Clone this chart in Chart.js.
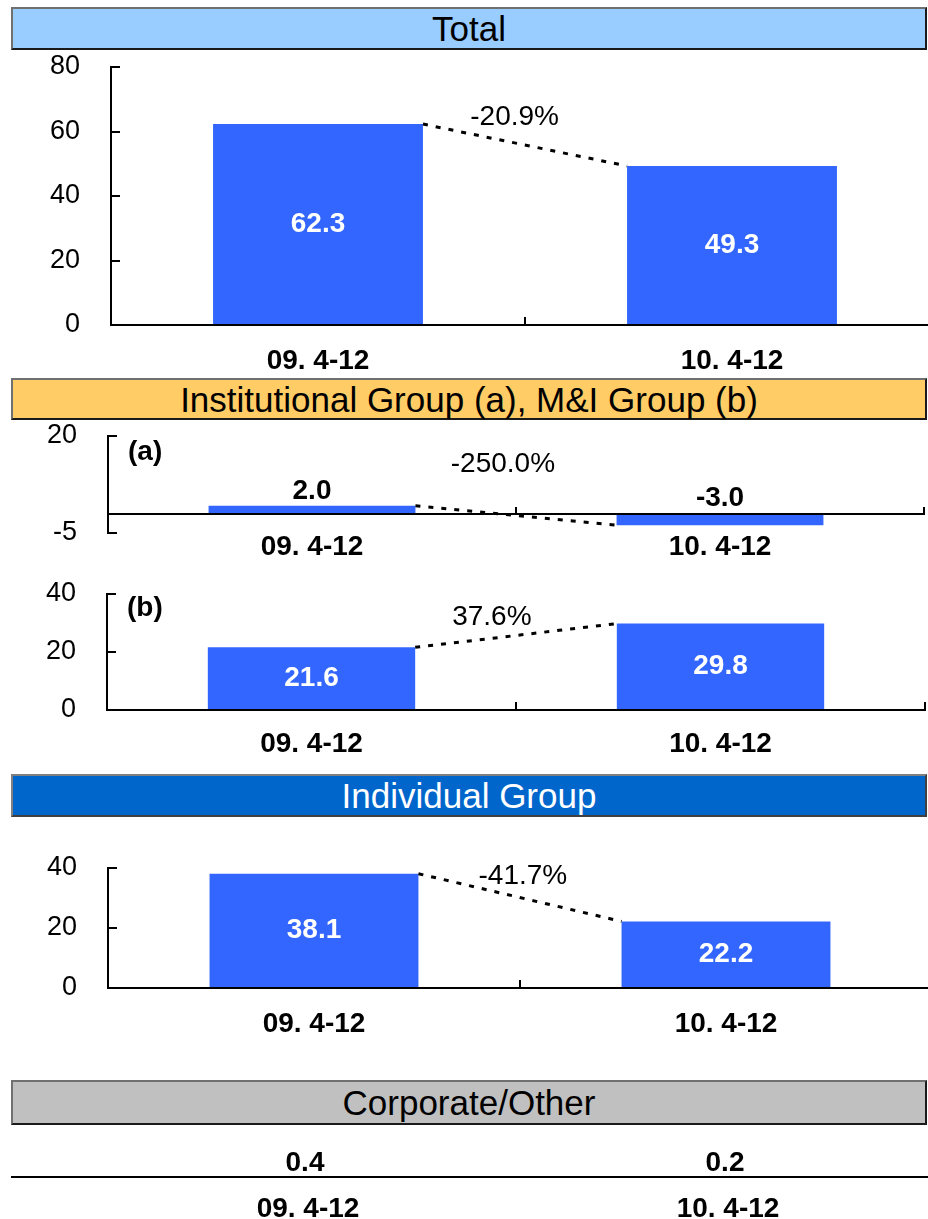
<!DOCTYPE html>
<html>
<head>
<meta charset="utf-8">
<title>Segment results 09. 4-12 vs 10. 4-12</title>
<script src="https://cdn.jsdelivr.net/npm/chart.js@4/dist/chart.umd.min.js"></script>
<style>
  html, body { margin: 0; padding: 0; background: #fff; width: 928px; height: 1219px; overflow: hidden; }
  body { position: relative; font-family: "Liberation Sans", Arial, Helvetica, sans-serif; }
  .hdr {
    position: absolute; left: 11px; width: 916px; box-sizing: border-box;
    border-style: solid; border-width: 2px;
    border-color: #707070 #1a1a1a #1a1a1a #707070;
    font-size: 35px; line-height: 1; color: #000;
    display: flex; align-items: center; justify-content: center;
  }
  canvas { position: absolute; left: 0; }
</style>
</head>
<body>
<div class="hdr" style="top:7px;height:43px;background:#99CCFF;">Total</div>
<canvas id="totalChart"></canvas>

<div class="hdr" style="top:378px;height:42px;background:#FFCC66;">Institutional Group (a), M&amp;I Group (b)</div>
<canvas id="instChart"></canvas>
<canvas id="miChart"></canvas>

<div class="hdr" style="top:774px;height:43px;background:#0066CC;color:#fff;border-color:#808080 #404040 #404040 #808080;">Individual Group</div>
<canvas id="individualChart"></canvas>

<div class="hdr" style="top:1080px;height:45px;background:#C0C0C0;">Corporate/Other</div>
<canvas id="corporateChart"></canvas>

<script>
// ---- data ----
const periods = ['09. 4-12', '10. 4-12'];

const totalValues = [62.3, 49.3];
const totalTicks = [0, 20, 40, 60, 80];
const totalChange = '-20.9%';

const institutionalValues = [2.0, -3.0];
const institutionalTicks = [-5, 20];
const institutionalChange = '-250.0%';

const miValues = [21.6, 29.8];
const miTicks = [0, 20, 40];
const miChange = '37.6%';

const individualValues = [38.1, 22.2];
const individualTicks = [0, 20, 40];
const individualChange = '-41.7%';

const corporateValues = [0.4, 0.2];

// ---- shared style ----
const FONT = '"Liberation Sans", Arial, Helvetica, sans-serif';
const BAR_BLUE = '#3366FF';
Chart.defaults.font.family = FONT;
Chart.defaults.color = '#000';
Chart.defaults.animation = false;
Chart.defaults.plugins.legend.display = false;
Chart.defaults.plugins.tooltip.enabled = false;

// Value labels, dotted connector between the two bars, change label and panel tag
const barAnnotations = {
  id: 'barAnnotations',
  afterDatasetsDraw(chart, args, opts) {
    const ctx = chart.ctx;
    const els = chart.getDatasetMeta(0).data;
    const values = chart.data.datasets[0].data;
    ctx.save();

    if (opts.connector && els.length === 2) {
      const a = els[0], b = els[1];
      ctx.beginPath();
      ctx.setLineDash([5, 8]);
      ctx.lineWidth = 3;
      ctx.strokeStyle = '#000';
      ctx.moveTo(a.x + a.width / 2, a.y);
      ctx.lineTo(b.x - b.width / 2, b.y);
      ctx.stroke();
      ctx.setLineDash([]);
    }

    ctx.textAlign = 'center';
    ctx.textBaseline = 'middle';
    ctx.font = 'bold 28px ' + FONT;
    els.forEach((el, i) => {
      const txt = values[i].toFixed(1);
      if (opts.valueMode === 'inside') {
        ctx.fillStyle = '#fff';
        ctx.fillText(txt, el.x, (el.y + el.base) / 2);
      } else {
        ctx.fillStyle = '#000';
        ctx.fillText(txt, el.x, Math.min(el.y, el.base) - opts.valueGap);
      }
    });

    if (opts.change) {
      const x = chart.scales.x.getPixelForValue(opts.changeAt[0]);
      const y = chart.scales.y.getPixelForValue(opts.changeAt[1]);
      ctx.font = '28px ' + FONT;
      ctx.fillStyle = '#000';
      ctx.fillText(opts.change, x, y);
    }

    if (opts.tag) {
      ctx.font = 'bold 28px ' + FONT;
      ctx.textAlign = 'left';
      ctx.fillStyle = '#000';
      ctx.fillText(opts.tag, chart.chartArea.left + opts.tagOffset[0], chart.chartArea.top + opts.tagOffset[1]);
    }
    ctx.restore();
  }
};

function makeBarChart(id, spec) {
  const canvas = document.getElementById(id);
  const xAxisHeight = 50;
  const width = spec.axisLeft + 2 * spec.catWidth + spec.padRight;
  const height = spec.padTop + spec.areaHeight + (spec.xAtZero ? spec.padBottom : xAxisHeight);
  canvas.width = width;
  canvas.height = height;
  canvas.style.width = width + 'px';
  canvas.style.height = height + 'px';
  canvas.style.top = spec.top + 'px';

  return new Chart(canvas, {
    type: 'bar',
    data: {
      labels: periods,
      datasets: [{
        data: spec.values,
        backgroundColor: BAR_BLUE,
        borderWidth: 0,
        barPercentage: 1,
        categoryPercentage: 0.507
      }]
    },
    options: {
      responsive: false,
      devicePixelRatio: 1,
      layout: { padding: { top: spec.padTop, right: spec.padRight, left: 0, bottom: spec.xAtZero ? spec.padBottom : 0 } },
      scales: {
        x: {
          position: spec.xAtZero ? { y: 0 } : 'bottom',
          offset: true,
          grid: { display: true, offset: true, drawOnChartArea: false, drawTicks: true, tickLength: -8, color: '#000', lineWidth: 2 },
          border: { display: true, color: '#000', width: 2, z: 1 },
          ticks: { font: { size: 28, weight: 'bold' }, color: '#000', padding: spec.labelPad, maxRotation: 0, autoSkip: false },
          afterFit: s => { s.height = xAxisHeight; s.paddingLeft = 0; s.paddingRight = 0; }
        },
        y: {
          min: spec.min,
          max: spec.max,
          grid: { display: true, drawOnChartArea: false, drawTicks: true, tickLength: -9, color: '#000', lineWidth: 2 },
          border: { display: true, color: '#000', width: 2, z: 1 },
          ticks: { font: { size: 27 }, color: '#000', padding: 40 },
          afterBuildTicks: s => { s.ticks = spec.ticks.map(v => ({ value: v })); },
          afterFit: s => { s.width = spec.axisLeft; s.paddingTop = 0; s.paddingBottom = 0; }
        }
      },
      plugins: {
        barAnnotations: {
          connector: true,
          valueMode: spec.valueMode,
          valueGap: 15,
          change: spec.change,
          changeAt: spec.changeAt,
          tag: spec.tag,
          tagOffset: spec.tagOffset
        }
      }
    },
    plugins: [barAnnotations]
  });
}

makeBarChart('totalChart', {
  values: totalValues, ticks: totalTicks, min: 0, max: 80,
  top: 47, padTop: 20, areaHeight: 258, axisLeft: 111, catWidth: 414, padRight: 1, labelPad: 27,
  valueMode: 'inside', change: totalChange, changeAt: [0.475, 64.5]
});

makeBarChart('instChart', {
  values: institutionalValues, ticks: institutionalTicks, min: -5, max: 20,
  top: 416, padTop: 20, areaHeight: 97, padBottom: 35, xAtZero: true,
  axisLeft: 108, catWidth: 408, padRight: 4, labelPad: 25,
  valueMode: 'above', change: institutionalChange, changeAt: [0.468, 12.6],
  tag: '(a)', tagOffset: [20, 16]
});

makeBarChart('miChart', {
  values: miValues, ticks: miTicks, min: 0, max: 40,
  top: 574, padTop: 20, areaHeight: 116, axisLeft: 107, catWidth: 409, padRight: 3, labelPad: 25,
  valueMode: 'inside', change: miChange, changeAt: [0.441, 32.1],
  tag: '(b)', tagOffset: [20, 14]
});

makeBarChart('individualChart', {
  values: individualValues, ticks: individualTicks, min: 0, max: 40,
  top: 848, padTop: 20, areaHeight: 120, axisLeft: 108, catWidth: 412, padRight: 2, labelPad: 27,
  valueMode: 'inside', change: individualChange, changeAt: [0.507, 37.3]
});

// Corporate/Other: values listed above a rule, periods below it
const corporateRule = {
  id: 'corporateRule',
  afterDraw(chart) {
    const ctx = chart.ctx;
    const y = chart.scales.x.top;
    ctx.save();
    ctx.strokeStyle = '#000';
    ctx.lineWidth = 2;
    ctx.beginPath();
    ctx.moveTo(11, y);
    ctx.lineTo(chart.width, y);
    ctx.stroke();

    ctx.font = 'bold 28px ' + FONT;
    ctx.fillStyle = '#000';
    ctx.textAlign = 'center';
    ctx.textBaseline = 'middle';
    const els = chart.getDatasetMeta(0).data;
    const values = chart.data.datasets[0].data;
    els.forEach((el, i) => {
      ctx.fillText(values[i].toFixed(1), el.x - 3, y - 14);
    });
    ctx.restore();
  }
};

(function () {
  const canvas = document.getElementById('corporateChart');
  const width = 940, height = 89;
  canvas.width = width; canvas.height = height;
  canvas.style.width = width + 'px'; canvas.style.height = height + 'px';
  canvas.style.top = '1130px';
  new Chart(canvas, {
    type: 'bar',
    data: {
      labels: periods,
      datasets: [{ data: corporateValues, backgroundColor: 'rgba(0,0,0,0)', borderWidth: 0 }]
    },
    options: {
      responsive: false,
      devicePixelRatio: 1,
      layout: { padding: { top: 0, left: 98, right: 2, bottom: 0 } },
      scales: {
        x: {
          offset: true,
          grid: { display: false, drawTicks: false },
          border: { display: false },
          ticks: { font: { size: 28, weight: 'bold' }, color: '#000', padding: 15, maxRotation: 0, autoSkip: false },
          afterFit: s => { s.height = 42; s.paddingLeft = 0; s.paddingRight = 0; }
        },
        y: { display: false, min: 0, max: 1 }
      }
    },
    plugins: [corporateRule]
  });
})();
</script>
</body>
</html>
